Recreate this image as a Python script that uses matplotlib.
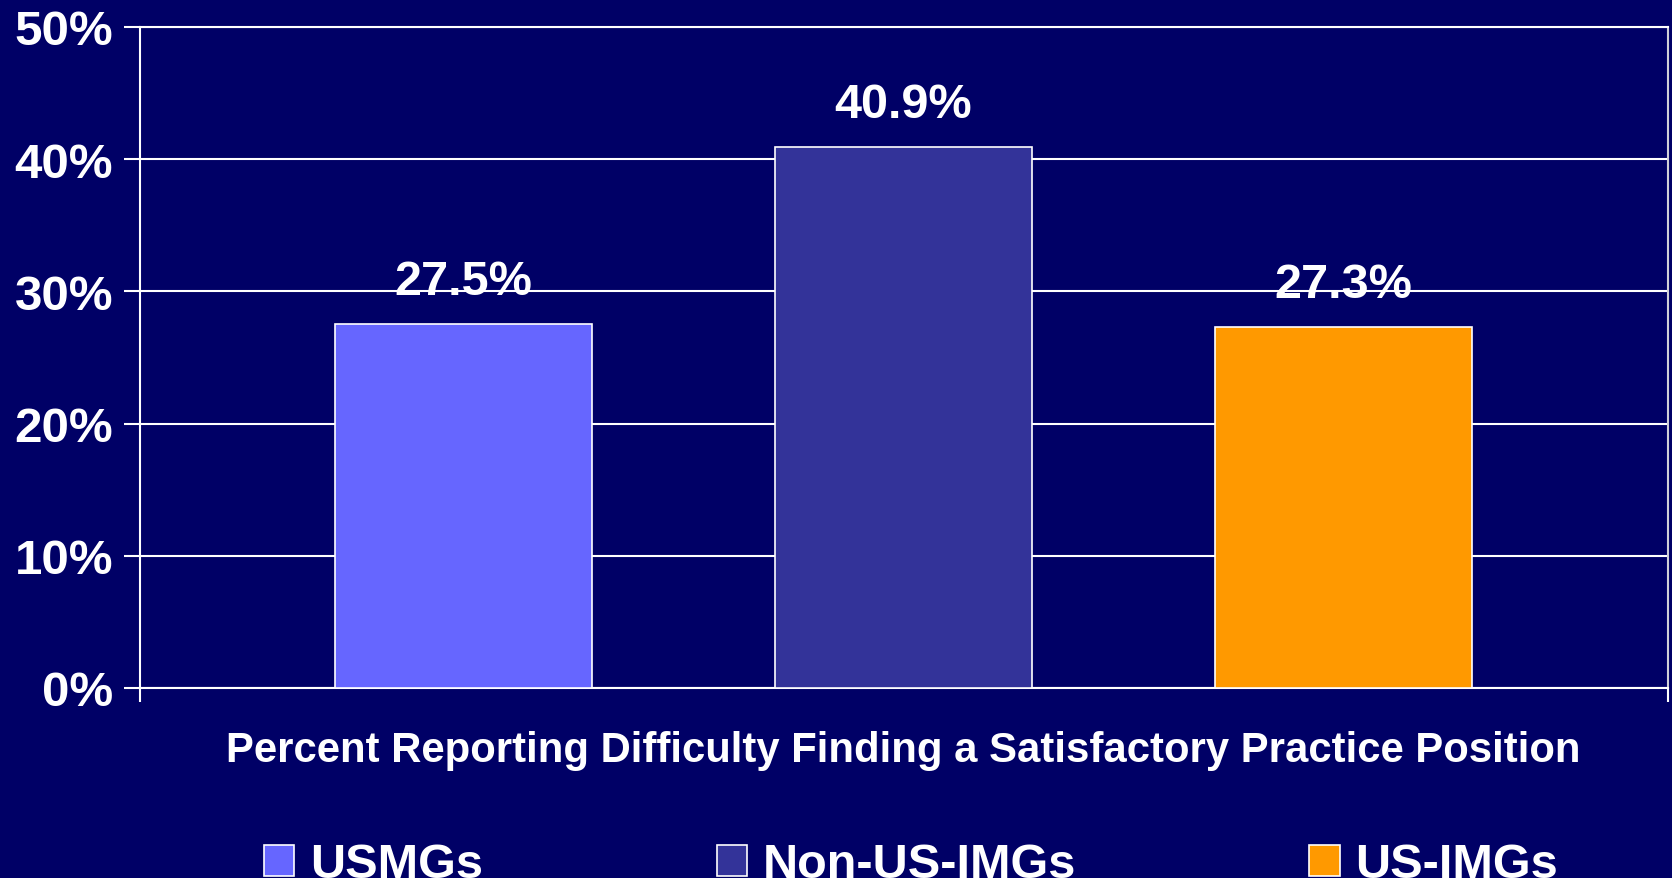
import numpy as np
import matplotlib
matplotlib.use("Agg")
import matplotlib.pyplot as plt

# data
category = "Percent Reporting Difficulty Finding a Satisfactory Practice Position"
series = ["USMGs", "Non-US-IMGs", "US-IMGs"]
values = [27.5, 40.9, 27.3]
colors = ["#6666FF", "#333399", "#FF9900"]
yticks = [0, 10, 20, 30, 40, 50]

bg = "#000066"
plt.rcParams['font.family'] = ['Liberation Sans', 'DejaVu Sans']
plt.rcParams['font.weight'] = 'bold'

fig = plt.figure(figsize=(16.72, 8.79), dpi=100, facecolor=bg)
ax = fig.add_axes([140 / 1672, 1 - 689 / 879, 1528 / 1672, 661 / 879])
ax.set_facecolor(bg)

x = np.arange(len(series))
for i, (name, v, c) in enumerate(zip(series, values, colors)):
    ax.bar(x[i], v, width=0.584, color=c, edgecolor="white", linewidth=1.2,
           label=name, zorder=3)
    ax.annotate(f"{v:.1f}%", (x[i], v), xytext=(0, 22), textcoords="offset points",
                ha="center", va="baseline", color="white", fontsize=35,
                fontweight="bold", zorder=4)

ax.set_xlim(-0.735, 2.7375)
ax.set_ylim(0, 50)
ax.set_yticks(yticks)
ax.set_yticklabels([f"{t}%" for t in yticks])
ax.yaxis.grid(True, color="white", linewidth=1.5, zorder=0)
ax.set_axisbelow(True)

# category label sits as the single x tick label
ax.set_xticks([1])
ax.set_xticklabels([category])
ax.tick_params(axis="x", which="major", length=0, pad=30, labelsize=30.2,
               labelcolor="white")
ax.set_xticks([-0.735, 2.7375], minor=True)
ax.tick_params(axis="x", which="minor", length=10, width=1.5, color="white",
               direction="out")
ax.tick_params(axis="y", length=11.5, width=1.5, color="white", pad=8,
               labelsize=35.5, labelcolor="white")

for s in ax.spines.values():
    s.set_color("white")
    s.set_linewidth(1.5)
ax.spines["right"].set_color("#d0d0d8")

# legend runs off the bottom edge, as in the reference
leg = fig.legend(loc="upper left", bbox_to_anchor=(264 / 1672, 0.0405),
                 ncol=3, frameon=False, fontsize=35, borderpad=0,
                 borderaxespad=0, handlelength=0.62, handleheight=0.62,
                 handletextpad=0.33, columnspacing=4.8)
for t in leg.get_texts():
    t.set_color("white")
    t.set_fontweight("bold")

fig.savefig("out.png", dpi=100, facecolor=bg)
